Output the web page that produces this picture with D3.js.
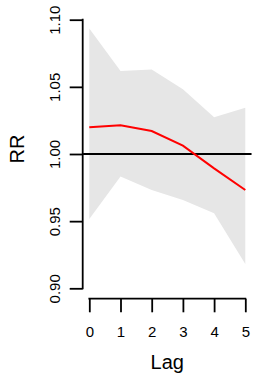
<!DOCTYPE html>
<html><head><meta charset="utf-8">
<script src="https://cdn.jsdelivr.net/npm/d3@7"></script>
<style>body{margin:0;background:#fff;} svg{display:block;} text{font-family:"Liberation Sans",Arial,sans-serif;}</style>
</head><body>
<svg id="c" width="256" height="382"></svg>
<script>
const lags = [0, 1, 2, 3, 4, 5];
const rr = [1.0199, 1.0214, 1.0171, 1.0062, 0.9893, 0.9732];
const upper = [1.0935, 1.0618, 1.0630, 1.0482, 1.0273, 1.0345];
const lower = [0.9516, 0.9833, 0.9732, 0.9657, 0.9558, 0.9181];
const yTicks = [0.90, 0.95, 1.00, 1.05, 1.10];
const yTickLabels = ["0.90", "0.95", "1.00", "1.05", "1.10"];
const xTicks = [0, 1, 2, 3, 4, 5];

const svg = d3.select("#c");
const x = d3.scaleLinear().domain([0, 5]).range([89.3, 245.3]);
const y = d3.scaleLinear().domain([0.90, 1.10]).range([288.3, 19.7]);
const xLeft = x(-0.2), xRight = x(5.2);
const axisX = 82.7, axisY = 298.7;

const data = lags.map((l, i) => ({l, rr: rr[i], up: upper[i], lo: lower[i]}));

svg.append("path").datum(data)
  .attr("d", d3.area().x(d => x(d.l)).y0(d => y(d.lo)).y1(d => y(d.up)))
  .attr("fill", "#e6e6e6");

svg.append("line")
  .attr("x1", xLeft).attr("x2", xRight)
  .attr("y1", y(1)).attr("y2", y(1))
  .attr("stroke", "#000").attr("stroke-width", 1.8);

svg.append("path").datum(data)
  .attr("d", d3.line().x(d => x(d.l)).y(d => y(d.rr)))
  .attr("fill", "none").attr("stroke", "#ff0000").attr("stroke-width", 2);

// Y axis
const gy = svg.append("g").attr("transform", `translate(${axisX},0)`)
  .call(d3.axisLeft(y).tickValues(yTicks).tickSize(13).tickFormat((d, i) => yTickLabels[i]));
gy.select(".domain").remove();
gy.selectAll(".tick line").attr("stroke-width", 1.8);
gy.selectAll(".tick text")
  .attr("x", 0).attr("dy", 0)
  .attr("transform", "translate(-27,0) rotate(-90)")
  .attr("text-anchor", "middle").attr("dominant-baseline", "middle")
  .attr("font-size", 15).attr("fill", "#000");
gy.append("line").attr("x1", 0).attr("x2", 0)
  .attr("y1", y(yTicks[0])).attr("y2", y(yTicks[yTicks.length - 1]))
  .attr("stroke", "#000").attr("stroke-width", 1.8).attr("stroke-linecap", "square");

// X axis
const gx = svg.append("g").attr("transform", `translate(0,${axisY})`)
  .call(d3.axisBottom(x).tickValues(xTicks).tickSize(13.6).tickFormat(d3.format("d")));
gx.select(".domain").remove();
gx.selectAll(".tick line").attr("stroke-width", 1.8);
gx.selectAll(".tick text").attr("y", 34).attr("dy", 0)
  .attr("dominant-baseline", "middle")
  .attr("font-size", 15).attr("fill", "#000");
gx.append("line").attr("y1", 0).attr("y2", 0)
  .attr("x1", x(xTicks[0])).attr("x2", x(xTicks[xTicks.length - 1]))
  .attr("stroke", "#000").attr("stroke-width", 1.8).attr("stroke-linecap", "square");

svg.append("text").attr("x", (x(0) + x(5)) / 2).attr("y", 364)
  .attr("text-anchor", "middle").attr("dominant-baseline", "middle")
  .attr("font-size", 20).text("Lag");
svg.append("text").attr("transform", `translate(19,${y(1.0) - 5}) rotate(-90)`)
  .attr("text-anchor", "middle").attr("dominant-baseline", "middle")
  .attr("font-size", 20).text("RR");
</script>
</body></html>
